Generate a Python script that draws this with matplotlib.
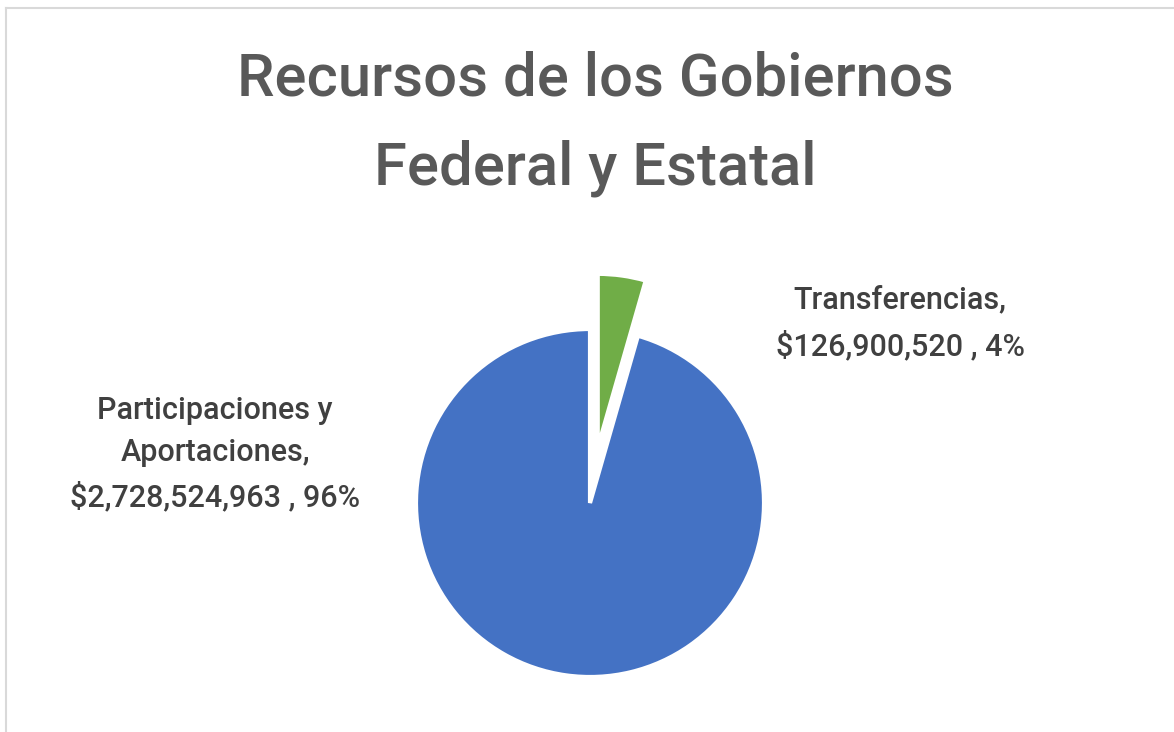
import matplotlib.pyplot as plt
from matplotlib.lines import Line2D

# datos del grafico
categorias = ["Transferencias", "Participaciones y\nAportaciones"]
montos = [126900520, 2728524963]
porcentajes = ["4%", "96%"]
colores = ["#70AD47", "#4472C4"]

W, H = 1174, 732
fig = plt.figure(figsize=(W / 100, H / 100), dpi=100)

# ejes que cubren la figura: 174 px por unidad, centro del pastel en (590, 503)
cx, cy, r = 590, 503, 174
ax = fig.add_axes([0, 0, 1, 1])
ax.pie(
    montos,
    colors=colores,
    startangle=90,
    counterclock=False,
    explode=[0.32, 0],
    radius=1,
    wedgeprops=dict(edgecolor="white", linewidth=3),
)
ax.set_xlim(-cx / r, (W - cx) / r)
ax.set_ylim((cy - H) / r, cy / r)
ax.set_aspect("auto")
ax.axis("off")

def px(x, y):
    return x / W, 1 - y / H

fuente = "Roboto"

fig.text(*px(595, 124), "Recursos de los Gobiernos\nFederal y Estatal",
         ha="center", va="center", fontsize=43, color="#595959",
         family=fuente, fontweight="medium", linespacing=1.7)

etiquetas = [f"{c},\n${m:,.0f} , {p}" for c, m, p in zip(categorias, montos, porcentajes)]

fig.text(*px(900, 323), etiquetas[0], ha="center", va="center",
         fontsize=22, color="#404040", family=fuente, fontweight="medium",
         linespacing=1.65)
fig.text(*px(215, 454), etiquetas[1], ha="center", va="center",
         fontsize=22, color="#404040", family=fuente, fontweight="medium",
         linespacing=1.58)

# borde del area del grafico (recortado)
fig.add_artist(Line2D([6 / W, 1], [1 - 8 / H, 1 - 8 / H], transform=fig.transFigure,
                      color="#d9d9d9", lw=1.5))
fig.add_artist(Line2D([6 / W, 6 / W], [0, 1 - 8 / H], transform=fig.transFigure,
                      color="#d9d9d9", lw=1.5))

fig.savefig("out.png", dpi=100)
